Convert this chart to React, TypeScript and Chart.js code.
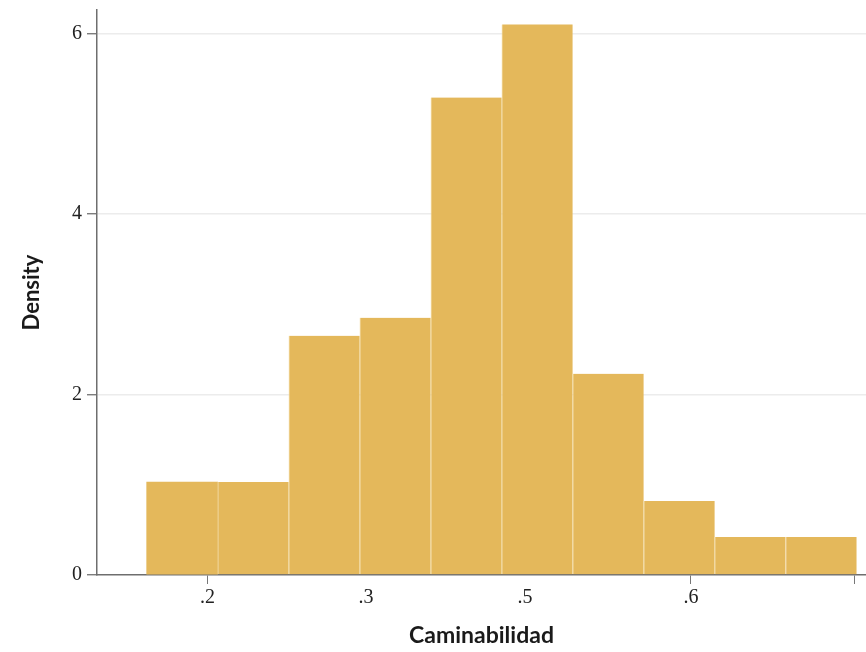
import React, { useEffect, useRef } from "react";
import { Chart, registerables } from "chart.js";

Chart.register(...registerables);

// Histogram bin edges (in the axis' own units) and density per bin
const binEdges = [0.1495, 0.2079, 0.2664, 0.3248, 0.3833, 0.4417, 0.5001, 0.5586, 0.617, 0.6754, 0.7339];
const density = [1.03, 1.03, 2.65, 2.85, 5.29, 6.1, 2.23, 0.82, 0.42, 0.42];

// Axis ticks as printed on the reference
const xTickValues = [0.1995, 0.33, 0.461, 0.5975, 0.7325];
const xTickLabels = [".2", ".3", ".5", ".6", ""];
const xTickMarkShown = [true, false, false, true, true];
const yTickValues = [0, 2, 4, 6];
const yTickLabels = ["0", "2", "4", "6"];

const xTitle = "Caminabilidad";
const yTitle = "Density";

const X_MIN = 0.1086;
const X_MAX = 0.7416;
const Y_MAX = 6.26;

export default function App() {
  const ref = useRef<HTMLCanvasElement | null>(null);

  useEffect(() => {
    document.body.style.margin = "0";
    const canvas = ref.current;
    if (!canvas) return;
    const points = density.map((d, i) => ({ x: (binEdges[i] + binEdges[i + 1]) / 2, y: d }));
    const chart = new Chart(canvas, {
      type: "bar",
      data: {
        datasets: [
          {
            data: points as any,
            backgroundColor: "#E4B85B",
            borderColor: "rgba(248,226,176,0.6)",
            borderWidth: ((c: any) =>
              c.dataIndex === 0 ? 0 : { left: 1, right: 0, top: 0, bottom: 0 }) as any,
            borderSkipped: false,
            barPercentage: 1,
            categoryPercentage: 1,
            grouped: false,
          },
        ],
      },
      options: {
        animation: false,
        responsive: false,
        devicePixelRatio: 1,
        events: [],
        layout: { padding: { top: 10, right: 0, left: 0, bottom: 0 } },
        plugins: { legend: { display: false }, tooltip: { enabled: false } },
        scales: {
          x: {
            type: "linear",
            min: X_MIN,
            max: X_MAX,
            offset: false,
            grid: {
              offset: false,
              drawOnChartArea: false,
              drawTicks: true,
              tickLength: 9,
              tickWidth: 1,
              tickColor: (c: any) => (xTickMarkShown[c.index] ? "#777" : "rgba(0,0,0,0)"),
            },
            border: { display: true, color: "#6e6e6e", width: 1.5 },
            afterBuildTicks: (s: any) => {
              s.ticks = xTickValues.map((v) => ({ value: v }));
            },
            afterFit: (s: any) => {
              s.height = 77;
              s.paddingLeft = 0;
              s.paddingRight = 0;
            },
            ticks: {
              autoSkip: false,
              maxRotation: 0,
              padding: 2,
              color: "#222",
              font: { family: "'Liberation Serif', serif", size: 20 },
              callback: (_v: any, i: number) => xTickLabels[i],
            },
            title: {
              display: true,
              text: xTitle,
              color: "#1a1a1a",
              font: { family: "Lato, 'Liberation Sans', sans-serif", size: 23, weight: "bold" },
              padding: { top: 0, bottom: 3 },
            },
          },
          y: {
            type: "linear",
            min: 0,
            max: Y_MAX,
            grid: {
              color: (c: any) => (c.tick && c.tick.value === 0 ? "rgba(0,0,0,0)" : "#ececec"),
              lineWidth: 1.5,
              drawTicks: true,
              tickLength: 10,
              tickColor: "#666",
              tickWidth: 1.2,
            },
            border: { display: true, color: "#6e6e6e", width: 1.5 },
            afterBuildTicks: (s: any) => {
              s.ticks = yTickValues.map((v) => ({ value: v }));
            },
            afterFit: (s: any) => {
              s.width = 97;
              s.paddingTop = 0;
              s.paddingBottom = 0;
            },
            ticks: {
              padding: 5,
              color: "#222",
              font: { family: "'Liberation Serif', serif", size: 20 },
              callback: (_v: any, i: number) => yTickLabels[i],
            },
            title: {
              display: true,
              text: yTitle,
              color: "#1a1a1a",
              font: { family: "Lato, 'Liberation Sans', sans-serif", size: 22, weight: "bold" },
              padding: { top: 19, bottom: 0 },
            },
          },
        },
      },
    });
    return () => chart.destroy();
  }, []);

  return (
    <div style={{ position: "absolute", left: 0, top: 0, width: 866, height: 652 }}>
      <canvas ref={ref} width={866} height={652} style={{ display: "block", width: 866, height: 652 }} />
    </div>
  );
}
